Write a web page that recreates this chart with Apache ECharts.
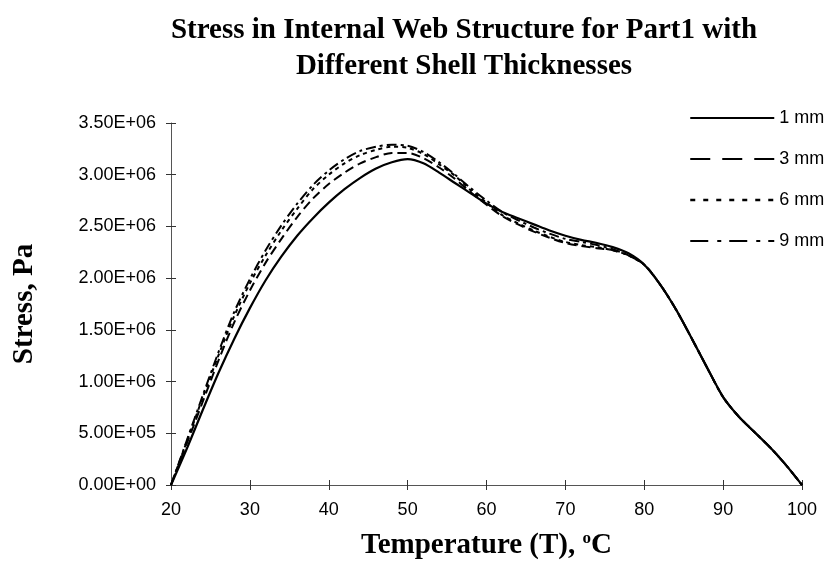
<!DOCTYPE html>
<html>
<head>
<meta charset="utf-8">
<script src="https://cdn.jsdelivr.net/npm/echarts@6/dist/echarts.min.js"></script>
<style>
  html, body { margin: 0; padding: 0; background: #fff; }
  #chart { width: 834px; height: 585px; }
</style>
</head>
<body>
<div id="chart"></div>
<script>
// temperature, deg C
const temps = [20, 22, 24, 26, 28, 30, 32, 34, 36, 38, 40, 42, 44, 46, 48, 50, 52, 54, 56, 58, 60,
  62, 64, 66, 68, 70, 72, 74, 76, 78, 80, 82, 84, 86, 88, 90, 92, 94, 96, 98, 100];

// stress, in units of 1E+06 Pa
const stress1mm = [0, 0.35, 0.72, 1.08, 1.41, 1.71, 1.98, 2.21, 2.41, 2.58, 2.73, 2.86, 2.97, 3.06, 3.12, 3.15, 3.11, 3.02, 2.92, 2.82, 2.72,
  2.64, 2.58, 2.52, 2.46, 2.41, 2.37, 2.34, 2.30, 2.24, 2.13, 1.94, 1.70, 1.42, 1.13, 0.85, 0.66, 0.51, 0.36, 0.19, 0];
const stress3mm = [0, 0.40, 0.80, 1.20, 1.57, 1.88, 2.15, 2.38, 2.59, 2.77, 2.91, 3.02, 3.11, 3.17, 3.21, 3.21, 3.16, 3.07, 2.96, 2.83, 2.71,
  2.60, 2.52, 2.45, 2.39, 2.34, 2.31, 2.29, 2.27, 2.22, 2.13, 1.94, 1.70, 1.42, 1.13, 0.85, 0.66, 0.51, 0.36, 0.19, 0];
const stress6mm = [0, 0.42, 0.84, 1.25, 1.63, 1.95, 2.22, 2.46, 2.67, 2.86, 3.00, 3.11, 3.19, 3.24, 3.27, 3.26, 3.20, 3.10, 2.99, 2.85, 2.73,
  2.61, 2.53, 2.46, 2.40, 2.35, 2.32, 2.30, 2.27, 2.22, 2.13, 1.94, 1.70, 1.42, 1.13, 0.85, 0.66, 0.51, 0.36, 0.19, 0];
const stress9mm = [0, 0.43, 0.86, 1.28, 1.67, 1.99, 2.27, 2.51, 2.72, 2.90, 3.04, 3.15, 3.23, 3.27, 3.29, 3.28, 3.22, 3.12, 3.00, 2.87, 2.75,
  2.64, 2.56, 2.49, 2.43, 2.38, 2.35, 2.32, 2.28, 2.22, 2.13, 1.94, 1.70, 1.42, 1.13, 0.85, 0.66, 0.51, 0.36, 0.19, 0];

const seriesNames = ['1 mm', '3 mm', '6 mm', '9 mm'];

const serif = '"Liberation Serif", "Times New Roman", serif';
const sans = '"Liberation Sans", Arial, sans-serif';

// 3.5 -> "3.50E+06"
function sciLabel(v) {
  const p = Math.round(v * 1e6);
  if (p === 0) return '0.00E+00';
  const e = Math.floor(Math.log10(p));
  const m = p / Math.pow(10, e);
  return m.toFixed(2) + 'E+' + String(e).padStart(2, '0');
}

const pairs = arr => temps.map((t, i) => [t, arr[i]]);

const lineSeries = (name, arr, type, width) => ({
  name: name,
  type: 'line',
  data: pairs(arr),
  smooth: 0.3,
  showSymbol: false,
  symbol: 'none',
  lineStyle: {color: '#000', width: width, type: type},
  itemStyle: {color: '#000'}
});

var myChart = echarts.init(document.getElementById('chart'));
const option = {
  animation: false,
  backgroundColor: '#fff',
  graphic: [{
    type: 'text',
    x: 464, y: 13,
    style: {
      text: 'Stress in Internal Web Structure for Part1 with\nDifferent Shell Thicknesses',
      align: 'center',
      verticalAlign: 'top',
      font: 'bold 29px ' + serif,
      lineHeight: 36,
      fill: '#000'
    }
  }],
  grid: {left: 171, right: 32, top: 123, bottom: 100},
  // legend swatches drawn as plain lines, symbol hidden
  legend: {
    orient: 'vertical',
    left: 684,
    top: 104,
    itemWidth: 84,
    itemHeight: 14,
    itemGap: 23,
    itemStyle: {opacity: 0},
    textStyle: {fontFamily: sans, fontSize: 18, color: '#000'},
    data: [
      {name: '1 mm', lineStyle: {type: 'solid', width: 2}},
      {name: '3 mm', lineStyle: {type: [20, 12], width: 2}},
      {name: '6 mm', lineStyle: {type: [5, 8], width: 2.5}},
      {name: '9 mm', lineStyle: {type: [18, 9, 4, 8], width: 2}}
    ]
  },
  xAxis: [{
    type: 'value', min: 20, max: 100, interval: 10,
    name: 'Temperature (T), {sup|o}C',
    nameLocation: 'middle',
    nameGap: 45,
    nameTextStyle: {
      fontFamily: serif, fontWeight: 'bold', fontSize: 29, color: '#000',
      rich: {sup: {fontFamily: serif, fontWeight: 'bold', fontSize: 17, verticalAlign: 'top', padding: [0, 0, 14, 0]}}
    },
    axisLine: {lineStyle: {color: '#555', width: 1}},
    axisTick: {length: 5, lineStyle: {color: '#333'}},
    axisLabel: {fontFamily: sans, fontSize: 18, color: '#000', margin: 16},
    splitLine: {show: false}
  }, {
    // second axis only for the inner half of the crossing ticks
    type: 'value', min: 20, max: 100, interval: 10, position: 'bottom',
    axisLine: {show: false},
    axisTick: {inside: true, length: 5, lineStyle: {color: '#333'}},
    axisLabel: {show: false},
    splitLine: {show: false}
  }],
  yAxis: [{
    type: 'value', min: 0, max: 3.5, interval: 0.5,
    name: 'Stress, Pa',
    nameLocation: 'middle',
    nameGap: 132,
    nameTextStyle: {fontFamily: serif, fontWeight: 'bold', fontSize: 29, color: '#000'},
    axisLine: {show: true, lineStyle: {color: '#555', width: 1}},
    axisTick: {show: true, length: 5, lineStyle: {color: '#333'}},
    axisLabel: {fontFamily: sans, fontSize: 18, color: '#000', margin: 15, formatter: sciLabel},
    splitLine: {show: false}
  }, {
    type: 'value', min: 0, max: 3.5, interval: 0.5, position: 'left', offset: 0,
    axisLine: {show: false},
    axisTick: {show: true, inside: true, length: 5, lineStyle: {color: '#333'}},
    axisLabel: {show: false},
    splitLine: {show: false}
  }],
  series: [
    lineSeries(seriesNames[3], stress9mm, [10, 4, 3, 4], 2),
    lineSeries(seriesNames[2], stress6mm, [4, 4], 2),
    lineSeries(seriesNames[1], stress3mm, [9, 5], 2),
    lineSeries(seriesNames[0], stress1mm, 'solid', 2.2)
  ]
};
myChart.setOption(option);
</script>
</body>
</html>
